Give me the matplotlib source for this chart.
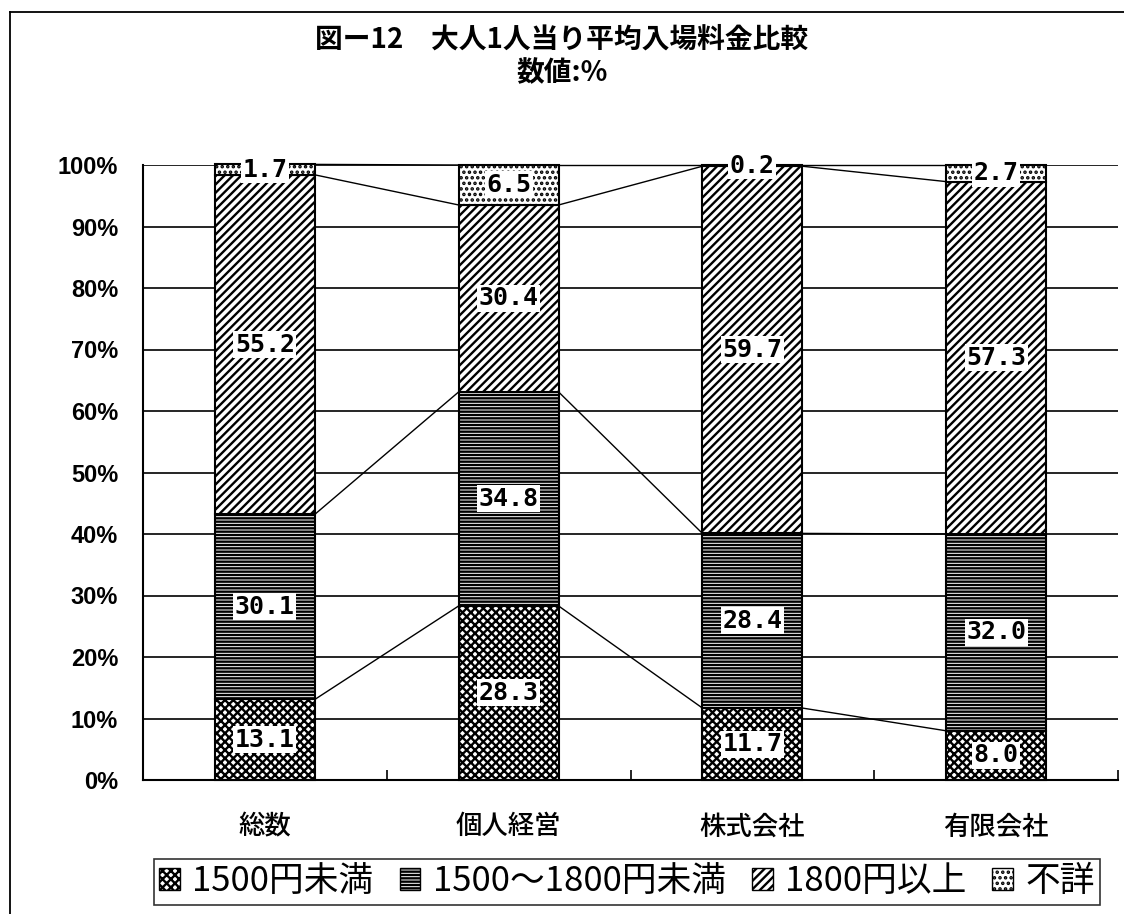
import matplotlib as mpl
import matplotlib.pyplot as plt
import numpy as np
from matplotlib.patches import Patch
from matplotlib.lines import Line2D

# Data (percent)
categories = ['総数', '個人経営', '株式会社', '有限会社']
series_names = ['1500円未満', '1500～1800円未満', '1800円以上', '不詳']
under_1500 = [13.1, 28.3, 11.7, 8.0]
from_1500_to_1800 = [30.1, 34.8, 28.4, 32.0]
over_1800 = [55.2, 30.4, 59.7, 57.3]
unknown = [1.7, 6.5, 0.2, 2.7]
ytick_values = [0, 10, 20, 30, 40, 50, 60, 70, 80, 90, 100]
ytick_labels = [f'{v}%' for v in ytick_values]

title_line1 = '図ー12　大人1人当り平均入場料金比較'
title_line2 = '数値:%'

JP = ['Noto Sans CJK JP', 'DejaVu Sans']
hatches = ['xxxx', '-----', '////', '...']

mpl.rcParams['hatch.linewidth'] = 1.7

W, H = 1124, 914
fig = plt.figure(figsize=(W / 100, H / 100), dpi=100)
fig.patch.set_facecolor('white')

# frame around the figure (left and top edges visible)
fx = 10 / W
fy = 1 - 12 / H
fig.add_artist(Line2D([fx, fx], [0, fy], transform=fig.transFigure, color='black', lw=1.3))
fig.add_artist(Line2D([fx, 1.0], [fy, fy], transform=fig.transFigure, color='black', lw=1.3))

ax = fig.add_axes([143 / W, 1 - 780 / H, (1118 - 143) / W, (780 - 165) / H])

x = np.arange(len(categories))
bar_w = 0.41
series = [under_1500, from_1500_to_1800, over_1800, unknown]

bottom = np.zeros(len(categories))
levels = []
for vals, hatch in zip(series, hatches):
    vals = np.asarray(vals, dtype=float)
    ax.bar(x, vals, width=bar_w, bottom=bottom, facecolor='white',
           edgecolor='black', hatch=hatch, linewidth=1.5, zorder=2,
           clip_on=False)
    for xi, b, v in zip(x, bottom, vals):
        ax.text(xi, b + v / 2, f'{v:.1f}', ha='center', va='center',
                fontfamily='DejaVu Sans Mono', fontweight='bold', fontsize=18,
                color='black', zorder=5, clip_on=False,
                bbox=dict(facecolor='white', edgecolor='none', pad=1.0))
    bottom = bottom + vals
    levels.append(bottom.copy())

# series lines connecting segment tops between neighbouring bars
for lev in levels:
    for i in range(len(categories) - 1):
        ax.plot([x[i] + bar_w / 2, x[i + 1] - bar_w / 2], [lev[i], lev[i + 1]],
                color='black', lw=1.0, zorder=3, clip_on=False)

ax.set_xlim(-0.5, len(categories) - 0.5)
ax.set_ylim(0, 100)
ax.set_yticks(ytick_values, ytick_labels)
ax.yaxis.grid(True, color='black', lw=1.2)
ax.set_axisbelow(True)

for s in ['top', 'right']:
    ax.spines[s].set_visible(False)
ax.spines['left'].set_linewidth(1.5)
ax.spines['bottom'].set_linewidth(1.5)

ax.tick_params(axis='y', length=0, pad=18)
for lbl in ax.get_yticklabels():
    lbl.set_fontfamily('Liberation Sans')
    lbl.set_fontweight('bold')
    lbl.set_fontsize(17)

ax.set_xticks(x, categories)
ax.set_xticks(np.arange(len(categories)) + 0.5, minor=True)
ax.tick_params(axis='x', which='major', length=0, pad=24)
ax.tick_params(axis='x', which='minor', direction='in', length=7, width=1.2)
for lbl in ax.get_xticklabels():
    lbl.set_fontfamily(JP)
    lbl.set_fontsize(19)
    lbl.set_fontweight('medium')

fig.text(0.5, 1 - 40 / H, title_line1, ha='center', va='center',
         fontfamily=JP, fontsize=20, fontweight='bold')
fig.text(0.5, 1 - 73 / H, title_line2, ha='center', va='center',
         fontfamily=JP, fontsize=20, fontweight='bold')

handles = [Patch(facecolor='white', edgecolor='black', hatch=h, linewidth=1.0)
           for h in hatches]
leg = fig.legend(handles, series_names, loc='center',
                 bbox_to_anchor=(627 / W, 1 - 882 / H), ncol=4,
                 prop={'family': JP, 'size': 25},
                 frameon=True, fancybox=False, edgecolor='black',
                 handlelength=0.6, handleheight=0.6, handletextpad=0.35,
                 columnspacing=0.75, borderpad=0.15, borderaxespad=0)
leg.get_frame().set_linewidth(1.2)

fig.savefig('out.png', dpi=100, facecolor='white')
